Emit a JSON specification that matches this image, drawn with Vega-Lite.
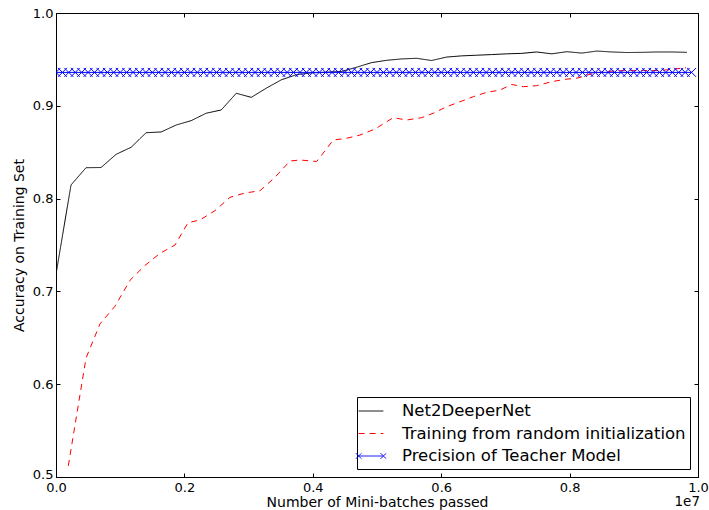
{
  "$schema": "https://vega.github.io/schema/vega-lite/v6.json",
  "width": 642,
  "height": 464,
  "autosize": "none",
  "padding": {"left": 56, "top": 13, "right": 11, "bottom": 33},
  "config": {
    "font": "DejaVu Sans",
    "view": {"stroke": "#000000", "strokeWidth": 1},
    "axis": {"grid": false, "domainColor": "#000000", "tickColor": "#000000", "labelColor": "#000000", "titleColor": "#000000", "labelFontSize": 13, "titleFontSize": 14, "titleFontWeight": "normal", "tickSize": -4, "labelFlush": false}
  },
  "resolve": {"axis": {"x": "independent", "y": "independent"}},
  "datasets": {
    "main": [
      {"series": "Net2DeeperNet", "x": 0, "y": 0.7185},
      {"series": "Net2DeeperNet", "x": 0.0234, "y": 0.8147},
      {"series": "Net2DeeperNet", "x": 0.0468, "y": 0.8333},
      {"series": "Net2DeeperNet", "x": 0.0702, "y": 0.8335},
      {"series": "Net2DeeperNet", "x": 0.0936, "y": 0.8477},
      {"series": "Net2DeeperNet", "x": 0.117, "y": 0.8553},
      {"series": "Net2DeeperNet", "x": 0.1404, "y": 0.871},
      {"series": "Net2DeeperNet", "x": 0.1638, "y": 0.8718},
      {"series": "Net2DeeperNet", "x": 0.1872, "y": 0.8793},
      {"series": "Net2DeeperNet", "x": 0.2106, "y": 0.884},
      {"series": "Net2DeeperNet", "x": 0.234, "y": 0.892},
      {"series": "Net2DeeperNet", "x": 0.2574, "y": 0.8955},
      {"series": "Net2DeeperNet", "x": 0.2808, "y": 0.9135},
      {"series": "Net2DeeperNet", "x": 0.3042, "y": 0.9091},
      {"series": "Net2DeeperNet", "x": 0.3276, "y": 0.919},
      {"series": "Net2DeeperNet", "x": 0.351, "y": 0.928},
      {"series": "Net2DeeperNet", "x": 0.3744, "y": 0.9335},
      {"series": "Net2DeeperNet", "x": 0.3978, "y": 0.9355},
      {"series": "Net2DeeperNet", "x": 0.4212, "y": 0.9362},
      {"series": "Net2DeeperNet", "x": 0.4446, "y": 0.937},
      {"series": "Net2DeeperNet", "x": 0.468, "y": 0.9415},
      {"series": "Net2DeeperNet", "x": 0.4914, "y": 0.9465},
      {"series": "Net2DeeperNet", "x": 0.5148, "y": 0.949},
      {"series": "Net2DeeperNet", "x": 0.5382, "y": 0.9505},
      {"series": "Net2DeeperNet", "x": 0.5616, "y": 0.9512},
      {"series": "Net2DeeperNet", "x": 0.585, "y": 0.9488},
      {"series": "Net2DeeperNet", "x": 0.6084, "y": 0.9525},
      {"series": "Net2DeeperNet", "x": 0.6318, "y": 0.9538},
      {"series": "Net2DeeperNet", "x": 0.6552, "y": 0.9545},
      {"series": "Net2DeeperNet", "x": 0.6786, "y": 0.9552},
      {"series": "Net2DeeperNet", "x": 0.702, "y": 0.956},
      {"series": "Net2DeeperNet", "x": 0.7254, "y": 0.9565},
      {"series": "Net2DeeperNet", "x": 0.7488, "y": 0.958},
      {"series": "Net2DeeperNet", "x": 0.7722, "y": 0.956},
      {"series": "Net2DeeperNet", "x": 0.7956, "y": 0.9583},
      {"series": "Net2DeeperNet", "x": 0.819, "y": 0.9568},
      {"series": "Net2DeeperNet", "x": 0.8424, "y": 0.959},
      {"series": "Net2DeeperNet", "x": 0.8658, "y": 0.958},
      {"series": "Net2DeeperNet", "x": 0.8892, "y": 0.9574},
      {"series": "Net2DeeperNet", "x": 0.9126, "y": 0.9576},
      {"series": "Net2DeeperNet", "x": 0.936, "y": 0.958},
      {"series": "Net2DeeperNet", "x": 0.9594, "y": 0.958},
      {"series": "Net2DeeperNet", "x": 0.9828, "y": 0.9576},
      {"series": "Training from random initialization", "x": 0.0192, "y": 0.512},
      {"series": "Training from random initialization", "x": 0.0467, "y": 0.628},
      {"series": "Training from random initialization", "x": 0.0685, "y": 0.665},
      {"series": "Training from random initialization", "x": 0.0919, "y": 0.684},
      {"series": "Training from random initialization", "x": 0.1153, "y": 0.712},
      {"series": "Training from random initialization", "x": 0.1386, "y": 0.728},
      {"series": "Training from random initialization", "x": 0.162, "y": 0.741},
      {"series": "Training from random initialization", "x": 0.1854, "y": 0.75},
      {"series": "Training from random initialization", "x": 0.2056, "y": 0.774},
      {"series": "Training from random initialization", "x": 0.2243, "y": 0.777},
      {"series": "Training from random initialization", "x": 0.2477, "y": 0.787},
      {"series": "Training from random initialization", "x": 0.271, "y": 0.8014},
      {"series": "Training from random initialization", "x": 0.2944, "y": 0.806},
      {"series": "Training from random initialization", "x": 0.3178, "y": 0.8085},
      {"series": "Training from random initialization", "x": 0.3411, "y": 0.823},
      {"series": "Training from random initialization", "x": 0.3645, "y": 0.8405},
      {"series": "Training from random initialization", "x": 0.3801, "y": 0.8416},
      {"series": "Training from random initialization", "x": 0.4061, "y": 0.84},
      {"series": "Training from random initialization", "x": 0.4319, "y": 0.8631},
      {"series": "Training from random initialization", "x": 0.4528, "y": 0.865},
      {"series": "Training from random initialization", "x": 0.4735, "y": 0.8685},
      {"series": "Training from random initialization", "x": 0.4969, "y": 0.875},
      {"series": "Training from random initialization", "x": 0.5254, "y": 0.8872},
      {"series": "Training from random initialization", "x": 0.5463, "y": 0.8847},
      {"series": "Training from random initialization", "x": 0.5696, "y": 0.8872},
      {"series": "Training from random initialization", "x": 0.5877, "y": 0.892},
      {"series": "Training from random initialization", "x": 0.6086, "y": 0.899},
      {"series": "Training from random initialization", "x": 0.6293, "y": 0.9044},
      {"series": "Training from random initialization", "x": 0.65, "y": 0.9098},
      {"series": "Training from random initialization", "x": 0.6709, "y": 0.9145},
      {"series": "Training from random initialization", "x": 0.6916, "y": 0.917},
      {"series": "Training from random initialization", "x": 0.7098, "y": 0.923},
      {"series": "Training from random initialization", "x": 0.7279, "y": 0.9206},
      {"series": "Training from random initialization", "x": 0.7488, "y": 0.9217},
      {"series": "Training from random initialization", "x": 0.7721, "y": 0.926},
      {"series": "Training from random initialization", "x": 0.7928, "y": 0.9285},
      {"series": "Training from random initialization", "x": 0.8131, "y": 0.93},
      {"series": "Training from random initialization", "x": 0.8369, "y": 0.935},
      {"series": "Training from random initialization", "x": 0.8567, "y": 0.937},
      {"series": "Training from random initialization", "x": 0.8785, "y": 0.9378},
      {"series": "Training from random initialization", "x": 0.9148, "y": 0.938},
      {"series": "Training from random initialization", "x": 0.9408, "y": 0.938},
      {"series": "Training from random initialization", "x": 0.9642, "y": 0.9397},
      {"series": "Training from random initialization", "x": 0.9813, "y": 0.941},
      {"series": "Precision of Teacher Model", "x": 0.00, "y": 0.936},
      {"series": "Precision of Teacher Model", "x": 0.01, "y": 0.936},
      {"series": "Precision of Teacher Model", "x": 0.02, "y": 0.936},
      {"series": "Precision of Teacher Model", "x": 0.03, "y": 0.936},
      {"series": "Precision of Teacher Model", "x": 0.04, "y": 0.936},
      {"series": "Precision of Teacher Model", "x": 0.05, "y": 0.936},
      {"series": "Precision of Teacher Model", "x": 0.06, "y": 0.936},
      {"series": "Precision of Teacher Model", "x": 0.07, "y": 0.936},
      {"series": "Precision of Teacher Model", "x": 0.08, "y": 0.936},
      {"series": "Precision of Teacher Model", "x": 0.09, "y": 0.936},
      {"series": "Precision of Teacher Model", "x": 0.10, "y": 0.936},
      {"series": "Precision of Teacher Model", "x": 0.11, "y": 0.936},
      {"series": "Precision of Teacher Model", "x": 0.12, "y": 0.936},
      {"series": "Precision of Teacher Model", "x": 0.13, "y": 0.936},
      {"series": "Precision of Teacher Model", "x": 0.14, "y": 0.936},
      {"series": "Precision of Teacher Model", "x": 0.15, "y": 0.936},
      {"series": "Precision of Teacher Model", "x": 0.16, "y": 0.936},
      {"series": "Precision of Teacher Model", "x": 0.17, "y": 0.936},
      {"series": "Precision of Teacher Model", "x": 0.18, "y": 0.936},
      {"series": "Precision of Teacher Model", "x": 0.19, "y": 0.936},
      {"series": "Precision of Teacher Model", "x": 0.20, "y": 0.936},
      {"series": "Precision of Teacher Model", "x": 0.21, "y": 0.936},
      {"series": "Precision of Teacher Model", "x": 0.22, "y": 0.936},
      {"series": "Precision of Teacher Model", "x": 0.23, "y": 0.936},
      {"series": "Precision of Teacher Model", "x": 0.24, "y": 0.936},
      {"series": "Precision of Teacher Model", "x": 0.25, "y": 0.936},
      {"series": "Precision of Teacher Model", "x": 0.26, "y": 0.936},
      {"series": "Precision of Teacher Model", "x": 0.27, "y": 0.936},
      {"series": "Precision of Teacher Model", "x": 0.28, "y": 0.936},
      {"series": "Precision of Teacher Model", "x": 0.29, "y": 0.936},
      {"series": "Precision of Teacher Model", "x": 0.30, "y": 0.936},
      {"series": "Precision of Teacher Model", "x": 0.31, "y": 0.936},
      {"series": "Precision of Teacher Model", "x": 0.32, "y": 0.936},
      {"series": "Precision of Teacher Model", "x": 0.33, "y": 0.936},
      {"series": "Precision of Teacher Model", "x": 0.34, "y": 0.936},
      {"series": "Precision of Teacher Model", "x": 0.35, "y": 0.936},
      {"series": "Precision of Teacher Model", "x": 0.36, "y": 0.936},
      {"series": "Precision of Teacher Model", "x": 0.37, "y": 0.936},
      {"series": "Precision of Teacher Model", "x": 0.38, "y": 0.936},
      {"series": "Precision of Teacher Model", "x": 0.39, "y": 0.936},
      {"series": "Precision of Teacher Model", "x": 0.40, "y": 0.936},
      {"series": "Precision of Teacher Model", "x": 0.41, "y": 0.936},
      {"series": "Precision of Teacher Model", "x": 0.42, "y": 0.936},
      {"series": "Precision of Teacher Model", "x": 0.43, "y": 0.936},
      {"series": "Precision of Teacher Model", "x": 0.44, "y": 0.936},
      {"series": "Precision of Teacher Model", "x": 0.45, "y": 0.936},
      {"series": "Precision of Teacher Model", "x": 0.46, "y": 0.936},
      {"series": "Precision of Teacher Model", "x": 0.47, "y": 0.936},
      {"series": "Precision of Teacher Model", "x": 0.48, "y": 0.936},
      {"series": "Precision of Teacher Model", "x": 0.49, "y": 0.936},
      {"series": "Precision of Teacher Model", "x": 0.50, "y": 0.936},
      {"series": "Precision of Teacher Model", "x": 0.51, "y": 0.936},
      {"series": "Precision of Teacher Model", "x": 0.52, "y": 0.936},
      {"series": "Precision of Teacher Model", "x": 0.53, "y": 0.936},
      {"series": "Precision of Teacher Model", "x": 0.54, "y": 0.936},
      {"series": "Precision of Teacher Model", "x": 0.55, "y": 0.936},
      {"series": "Precision of Teacher Model", "x": 0.56, "y": 0.936},
      {"series": "Precision of Teacher Model", "x": 0.57, "y": 0.936},
      {"series": "Precision of Teacher Model", "x": 0.58, "y": 0.936},
      {"series": "Precision of Teacher Model", "x": 0.59, "y": 0.936},
      {"series": "Precision of Teacher Model", "x": 0.60, "y": 0.936},
      {"series": "Precision of Teacher Model", "x": 0.61, "y": 0.936},
      {"series": "Precision of Teacher Model", "x": 0.62, "y": 0.936},
      {"series": "Precision of Teacher Model", "x": 0.63, "y": 0.936},
      {"series": "Precision of Teacher Model", "x": 0.64, "y": 0.936},
      {"series": "Precision of Teacher Model", "x": 0.65, "y": 0.936},
      {"series": "Precision of Teacher Model", "x": 0.66, "y": 0.936},
      {"series": "Precision of Teacher Model", "x": 0.67, "y": 0.936},
      {"series": "Precision of Teacher Model", "x": 0.68, "y": 0.936},
      {"series": "Precision of Teacher Model", "x": 0.69, "y": 0.936},
      {"series": "Precision of Teacher Model", "x": 0.70, "y": 0.936},
      {"series": "Precision of Teacher Model", "x": 0.71, "y": 0.936},
      {"series": "Precision of Teacher Model", "x": 0.72, "y": 0.936},
      {"series": "Precision of Teacher Model", "x": 0.73, "y": 0.936},
      {"series": "Precision of Teacher Model", "x": 0.74, "y": 0.936},
      {"series": "Precision of Teacher Model", "x": 0.75, "y": 0.936},
      {"series": "Precision of Teacher Model", "x": 0.76, "y": 0.936},
      {"series": "Precision of Teacher Model", "x": 0.77, "y": 0.936},
      {"series": "Precision of Teacher Model", "x": 0.78, "y": 0.936},
      {"series": "Precision of Teacher Model", "x": 0.79, "y": 0.936},
      {"series": "Precision of Teacher Model", "x": 0.80, "y": 0.936},
      {"series": "Precision of Teacher Model", "x": 0.81, "y": 0.936},
      {"series": "Precision of Teacher Model", "x": 0.82, "y": 0.936},
      {"series": "Precision of Teacher Model", "x": 0.83, "y": 0.936},
      {"series": "Precision of Teacher Model", "x": 0.84, "y": 0.936},
      {"series": "Precision of Teacher Model", "x": 0.85, "y": 0.936},
      {"series": "Precision of Teacher Model", "x": 0.86, "y": 0.936},
      {"series": "Precision of Teacher Model", "x": 0.87, "y": 0.936},
      {"series": "Precision of Teacher Model", "x": 0.88, "y": 0.936},
      {"series": "Precision of Teacher Model", "x": 0.89, "y": 0.936},
      {"series": "Precision of Teacher Model", "x": 0.90, "y": 0.936},
      {"series": "Precision of Teacher Model", "x": 0.91, "y": 0.936},
      {"series": "Precision of Teacher Model", "x": 0.92, "y": 0.936},
      {"series": "Precision of Teacher Model", "x": 0.93, "y": 0.936},
      {"series": "Precision of Teacher Model", "x": 0.94, "y": 0.936},
      {"series": "Precision of Teacher Model", "x": 0.95, "y": 0.936},
      {"series": "Precision of Teacher Model", "x": 0.96, "y": 0.936},
      {"series": "Precision of Teacher Model", "x": 0.97, "y": 0.936},
      {"series": "Precision of Teacher Model", "x": 0.98, "y": 0.936},
      {"series": "Precision of Teacher Model", "x": 0.99, "y": 0.936}
    ],
    "note": [{"x": 1.0, "y": 0.5, "label": "1e7"}]
  },
  "layer": [
    {
      "data": {"name": "main"},
      "mark": {"type": "line", "strokeWidth": 1, "clip": true},
      "encoding": {
        "x": {"field": "x", "type": "quantitative", "scale": {"domain": [0, 1], "nice": false, "zero": false},
              "axis": {"orient": "bottom", "values": [0, 0.2, 0.4, 0.6, 0.8, 1.0], "format": ".1f", "title": "Number of Mini-batches passed", "labelPadding": 8, "titlePadding": 1}},
        "y": {"field": "y", "type": "quantitative", "scale": {"domain": [0.5, 1.0], "nice": false, "zero": false},
              "axis": {"orient": "left", "values": [0.5, 0.6, 0.7, 0.8, 0.9, 1.0], "format": ".1f", "title": "Accuracy on Training Set", "labelPadding": 7, "titlePadding": 6,
                       "labelOffset": {"condition": {"test": "datum.value < 0.55", "value": -3}, "value": 0}}},
        "color": {"field": "series", "type": "nominal",
                  "scale": {"domain": ["Net2DeeperNet", "Training from random initialization", "Precision of Teacher Model"], "range": ["#000000", "#ff0000", "#0000ff"]},
                  "legend": {"title": null, "orient": "bottom-right", "offset": 8, "labelFontSize": 16.5, "labelLimit": 0, "labelColor": "#000000", "strokeColor": "#000000", "fillColor": "#ffffff", "padding": 4, "rowPadding": 3.5, "symbolSize": 361, "labelOffset": 21, "symbolStrokeWidth": 1, "cornerRadius": 0,
                    "encode": {"symbols": {"update": {"shape": {"signal": "datum.value === 'Precision of Teacher Model' ? 'M-1.3,0L1.3,0M-1.6,-0.3L-1.0,0.3M-1.6,0.3L-1.0,-0.3M1.0,-0.3L1.6,0.3M1.0,0.3L1.6,-0.3' : 'M-1.3,0L1.3,0'"}}}}}},
        "strokeDash": {"field": "series", "type": "nominal",
                  "scale": {"domain": ["Net2DeeperNet", "Training from random initialization", "Precision of Teacher Model"], "range": [[1, 0], [6, 5], [1, 0]]},
                  "legend": {"title": null, "orient": "bottom-right", "offset": 8, "labelFontSize": 16.5, "labelLimit": 0, "labelColor": "#000000", "strokeColor": "#000000", "fillColor": "#ffffff", "padding": 4, "rowPadding": 3.5, "symbolSize": 361, "labelOffset": 21, "symbolStrokeWidth": 1, "cornerRadius": 0}}
      }
    },
    {
      "data": {"name": "main"},
      "transform": [{"filter": "datum.series === 'Precision of Teacher Model'"}],
      "mark": {"type": "point", "shape": "M-1,-1L1,1M-1,1L1,-1", "filled": false, "size": 80, "strokeWidth": 1, "color": "#0000ff", "opacity": 1, "clip": true},
      "encoding": {
        "x": {"field": "x", "type": "quantitative", "axis": {"orient": "top", "labels": false, "title": null, "domain": false, "values": [0, 0.2, 0.4, 0.6, 0.8, 1.0]}},
        "y": {"field": "y", "type": "quantitative", "axis": {"orient": "right", "labels": false, "title": null, "domain": false, "values": [0.5, 0.6, 0.7, 0.8, 0.9, 1.0]}}
      }
    },
    {
      "data": {"name": "note"},
      "mark": {"type": "text", "align": "right", "baseline": "top", "dx": 2, "dy": 18, "fontSize": 13.5, "color": "#000000"},
      "encoding": {
        "x": {"field": "x", "type": "quantitative", "axis": null},
        "y": {"field": "y", "type": "quantitative", "axis": null},
        "text": {"field": "label"}
      }
    }
  ]
}
